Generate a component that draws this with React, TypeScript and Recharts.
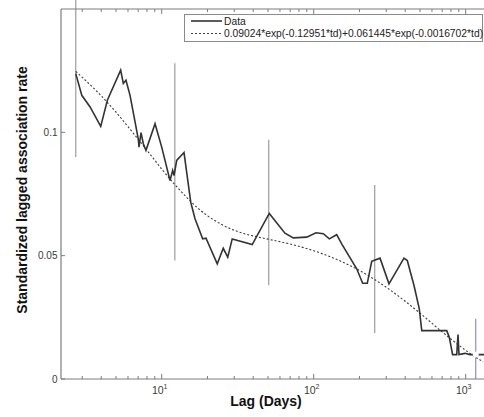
import React from 'react';
import { LineChart, Line, XAxis, YAxis, ErrorBar, Legend, Label } from 'recharts';

const lagDays = [
  2.72, 2.98, 3.38, 3.97, 4.39, 5.37, 5.59, 5.82, 6.19, 7.01, 7.09, 7.31, 7.57, 7.88, 9.04, 10,
  11.34, 11.81, 12.05, 12.55, 14.02, 15.52, 16.56, 18.6, 19.56, 23.2, 25.4, 27.2, 29.1, 39.4,
  51.0, 64.7, 73.4, 90.0, 103.5, 115.6, 126.7, 141.6, 152.8, 191.8, 209.9, 225.2, 240.8, 273.1,
  312.8, 392.6, 412.8, 457, 495, 514, 750, 780, 820, 873, 890, 903, 989, 1066, 1169, 1320,
];
const associationRate = [
  0.1238, 0.115, 0.1103, 0.1024, 0.113, 0.1252, 0.1198, 0.1211, 0.115, 0.0974, 0.094, 0.0999,
  0.0954, 0.0927, 0.1035, 0.094, 0.0805, 0.0846, 0.0825, 0.0886, 0.0918, 0.0717, 0.065, 0.0568,
  0.0571, 0.0467, 0.053, 0.0494, 0.0568, 0.0545, 0.0671, 0.0591, 0.0572, 0.0575, 0.0593, 0.0589,
  0.0568, 0.0585, 0.0548, 0.0447, 0.0388, 0.0388, 0.0477, 0.049, 0.0386, 0.049, 0.048, 0.0379,
  0.0284, 0.0196, 0.0196, 0.0169, 0.0099, 0.0099, 0.018, 0.0099, 0.0104, 0.0099, 0.0099, 0.0099,
];

// fitted curve (dotted)
const fitLag = [
  2.72, 3, 3.5, 4, 5, 6, 7, 8, 9, 10, 12, 15, 17.5, 20, 25, 30, 35, 40, 50, 70, 100, 150, 200,
  300, 400, 500, 700, 900, 1000, 1100, 1300,
];
const fitRate = [
  0.1247, 0.1223, 0.1184, 0.1148, 0.1082, 0.1023, 0.0972, 0.0927, 0.0887, 0.0851, 0.0793, 0.0729,
  0.069, 0.0662, 0.0625, 0.0603, 0.0589, 0.058, 0.0567, 0.0547, 0.052, 0.0478, 0.044, 0.0372,
  0.0315, 0.0267, 0.0191, 0.0137, 0.0116, 0.0098, 0.007,
];

// error bars: [below, above] the centre
const barLag = [2.72, 12.2, 50.6, 252];
const barCenter = [0.124, 0.088, 0.0675, 0.0486];
const barLow = [0.034, 0.04, 0.0295, 0.03];
const barHigh = [0.034, 0.04, 0.0295, 0.03];
const lastBarLag = [1164];
const lastBarCenter = [0.0099];
const lastBarLow = [0.0099];
const lastBarHigh = [0.0145];

const xTicks = [
  3, 4, 5, 6, 7, 8, 9, 10, 20, 30, 40, 50, 60, 70, 80, 90, 100, 200, 300, 400, 500, 600, 700,
  800, 900, 1000,
];
const majorTicks = [10, 100, 1000];
const yTicks = [0, 0.05, 0.1];
const fitLabel = '0.09024*exp(-0.12951*td)+0.061445*exp(-0.0016702*td)';

const dataSeries = lagDays.map((lag, i) => ({ lag, rate: associationRate[i] }));
const fitSeries = fitLag.map((lag, i) => ({ lag, rate: fitRate[i] }));
const barSeries = barLag.map((lag, i) => ({ lag, rate: barCenter[i], err: [barLow[i], barHigh[i]] }));
const lastBarSeries = lastBarLag.map((lag, i) => ({
  lag,
  rate: lastBarCenter[i],
  err: [lastBarLow[i], lastBarHigh[i]],
}));

const font = '"Liberation Sans", Arial, Helvetica, sans-serif';
const axisColor = '#7d7d7d';
const labelColor = '#3a3a3a';

const BottomTick = (props: any) => {
  const { x, y, payload } = props;
  const v = payload.value;
  const major = majorTicks.includes(v);
  return (
    <g>
      <line x1={x} x2={x} y1={y} y2={y - (major ? 5 : 3)} stroke={axisColor} strokeWidth={1} />
      {major && (
        <text x={x - 2} y={y + 15} textAnchor="middle" fontSize={10.5} fill={labelColor} fontFamily={font}>
          10
          <tspan dy={-5} fontSize={7}>
            {Math.round(Math.log10(v))}
          </tspan>
        </text>
      )}
    </g>
  );
};

const TopTick = (props: any) => {
  const { x, y, payload } = props;
  const major = majorTicks.includes(payload.value);
  return <line x1={x} x2={x} y1={y} y2={y + (major ? 5 : 3)} stroke={axisColor} strokeWidth={1} />;
};

const LeftTick = (props: any) => {
  const { x, y, payload } = props;
  return (
    <g>
      <line x1={x} x2={x + 4} y1={y} y2={y} stroke={axisColor} strokeWidth={1} />
      <text x={x - 3.5} y={y} dy="0.35em" textAnchor="end" fontSize={10} fill={labelColor} fontFamily={font}>
        {String(payload.value)}
      </text>
    </g>
  );
};

const XTitle = (props: any) => {
  const { viewBox } = props;
  return (
    <text
      x={viewBox.x + viewBox.width / 2 - 7.5}
      y={viewBox.y + 27}
      textAnchor="middle"
      fontSize={14}
      fontWeight="bold"
      fill="#111"
      fontFamily={font}
    >
      Lag (Days)
    </text>
  );
};

const YTitle = (props: any) => {
  const { viewBox } = props;
  const cx = viewBox.x + 26.5;
  const cy = viewBox.y + viewBox.height / 2 - 4;
  return (
    <text
      x={cx}
      y={cy}
      transform={`rotate(-90, ${cx}, ${cy})`}
      textAnchor="middle"
      fontSize={14}
      fontWeight="bold"
      fill="#111"
      fontFamily={font}
    >
      Standardized lagged association rate
    </text>
  );
};

const FitLegend = () => (
  <svg width={300} height={29} style={{ display: 'block' }}>
    <rect x={0.5} y={0.5} width={298} height={27} fill="#fff" stroke="#8a8a8a" />
    <line x1={7} x2={38} y1={7} y2={7} stroke="#333" strokeWidth={1.6} />
    <text x={40} y={10.5} fontSize={10.3} fill="#222" fontFamily={font}>
      Data
    </text>
    <line x1={7} x2={38} y1={19.5} y2={19.5} stroke="#444" strokeWidth={1.1} strokeDasharray="2 2" />
    <text x={40} y={23} fontSize={10.3} fill="#222" fontFamily={font}>
      {fitLabel}
    </text>
  </svg>
);

export default function App() {
  return (
    <div
      style={{
        position: 'absolute',
        left: 0,
        top: 0,
        width: 484,
        height: 417,
        overflow: 'hidden',
        background: '#fff',
      }}
    >
      <LineChart width={500} height={417} margin={{ top: 8, right: 14, bottom: 0, left: 0 }} style={{ fontFamily: font }}>
        <XAxis
          dataKey="lag"
          type="number"
          scale="log"
          domain={[2.175, 1360]}
          allowDataOverflow
          ticks={xTicks}
          interval={0}
          tickSize={0}
          tickMargin={0}
          height={38}
          tick={BottomTick}
          tickLine={false}
          axisLine={{ stroke: axisColor, strokeWidth: 1.2 }}
        >
          <Label content={XTitle} />
        </XAxis>
        <XAxis
          xAxisId="top"
          orientation="top"
          dataKey="lag"
          type="number"
          scale="log"
          domain={[2.175, 1360]}
          allowDataOverflow
          ticks={xTicks}
          interval={0}
          tickSize={0}
          tickMargin={0}
          height={1}
          tick={TopTick}
          tickLine={false}
          axisLine={{ stroke: axisColor, strokeWidth: 1.2 }}
        />
        <YAxis
          type="number"
          domain={[0, 0.15]}
          allowDataOverflow
          ticks={yTicks}
          interval={0}
          tickSize={0}
          tickMargin={0}
          width={61}
          tick={LeftTick}
          tickLine={false}
          axisLine={{ stroke: axisColor, strokeWidth: 1.2 }}
        >
          <Label content={YTitle} />
        </YAxis>
        <Legend
          layout="horizontal"
          verticalAlign="middle"
          align="center"
          content={FitLegend}
          wrapperStyle={{ position: 'absolute', left: 184, top: 14, width: 300, height: 29 }}
        />
        <Line
          data={barSeries}
          dataKey="rate"
          stroke="none"
          dot={false}
          legendType="none"
          isAnimationActive={false}
        >
          <ErrorBar dataKey="err" direction="y" width={0} stroke="#9c9c9c" strokeWidth={1.2} isAnimationActive={false} />
        </Line>
        <Line
          data={lastBarSeries}
          dataKey="rate"
          stroke="none"
          dot={false}
          legendType="none"
          isAnimationActive={false}
        >
          <ErrorBar dataKey="err" direction="y" width={0} stroke="#8c8fc4" strokeWidth={1.2} isAnimationActive={false} />
        </Line>
        <Line
          data={fitSeries}
          dataKey="rate"
          type="monotone"
          stroke="#3c3c3c"
          strokeWidth={1.1}
          strokeDasharray="2 2"
          dot={false}
          isAnimationActive={false}
        />
        <Line
          data={dataSeries}
          dataKey="rate"
          type="linear"
          stroke="#333"
          strokeWidth={1.6}
          dot={false}
          isAnimationActive={false}
        />
      </LineChart>
    </div>
  );
}
